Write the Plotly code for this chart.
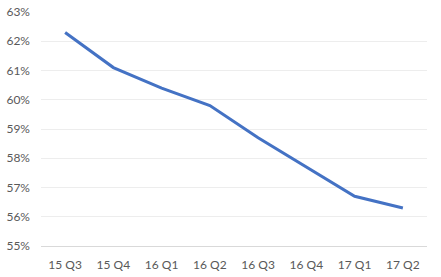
import plotly.graph_objects as go

quarters = ["15 Q3", "15 Q4", "16 Q1", "16 Q2", "16 Q3", "16 Q4", "17 Q1", "17 Q2"]
share = [0.623, 0.611, 0.604, 0.598, 0.587, 0.577, 0.567, 0.563]

fig = go.Figure()
fig.add_trace(go.Scatter(x=quarters, y=share, mode="lines",
                         line=dict(color="#4472C4", width=3)))

font = dict(family="Lato, 'Open Sans', sans-serif", size=12, color="#595959")
fig.update_layout(
    width=441, height=277,
    margin=dict(l=41, r=14, t=12, b=31),
    plot_bgcolor="white", paper_bgcolor="white",
    showlegend=False,
    font=font,
    xaxis=dict(type="category", showgrid=False, showline=True, linecolor="#D9D9D9",
               linewidth=1, ticks="", range=[-0.5, 7.5], tickfont=font,
               ticklabelstandoff=8, automargin=False),
    yaxis=dict(range=[0.55, 0.63], dtick=0.01, tickformat=".0%", showgrid=True,
               gridcolor="#EDEDED", gridwidth=1, zeroline=False, showline=False,
               ticks="", tickfont=font, ticklabelstandoff=10, automargin=False),
)
fig.write_html("out.html")
